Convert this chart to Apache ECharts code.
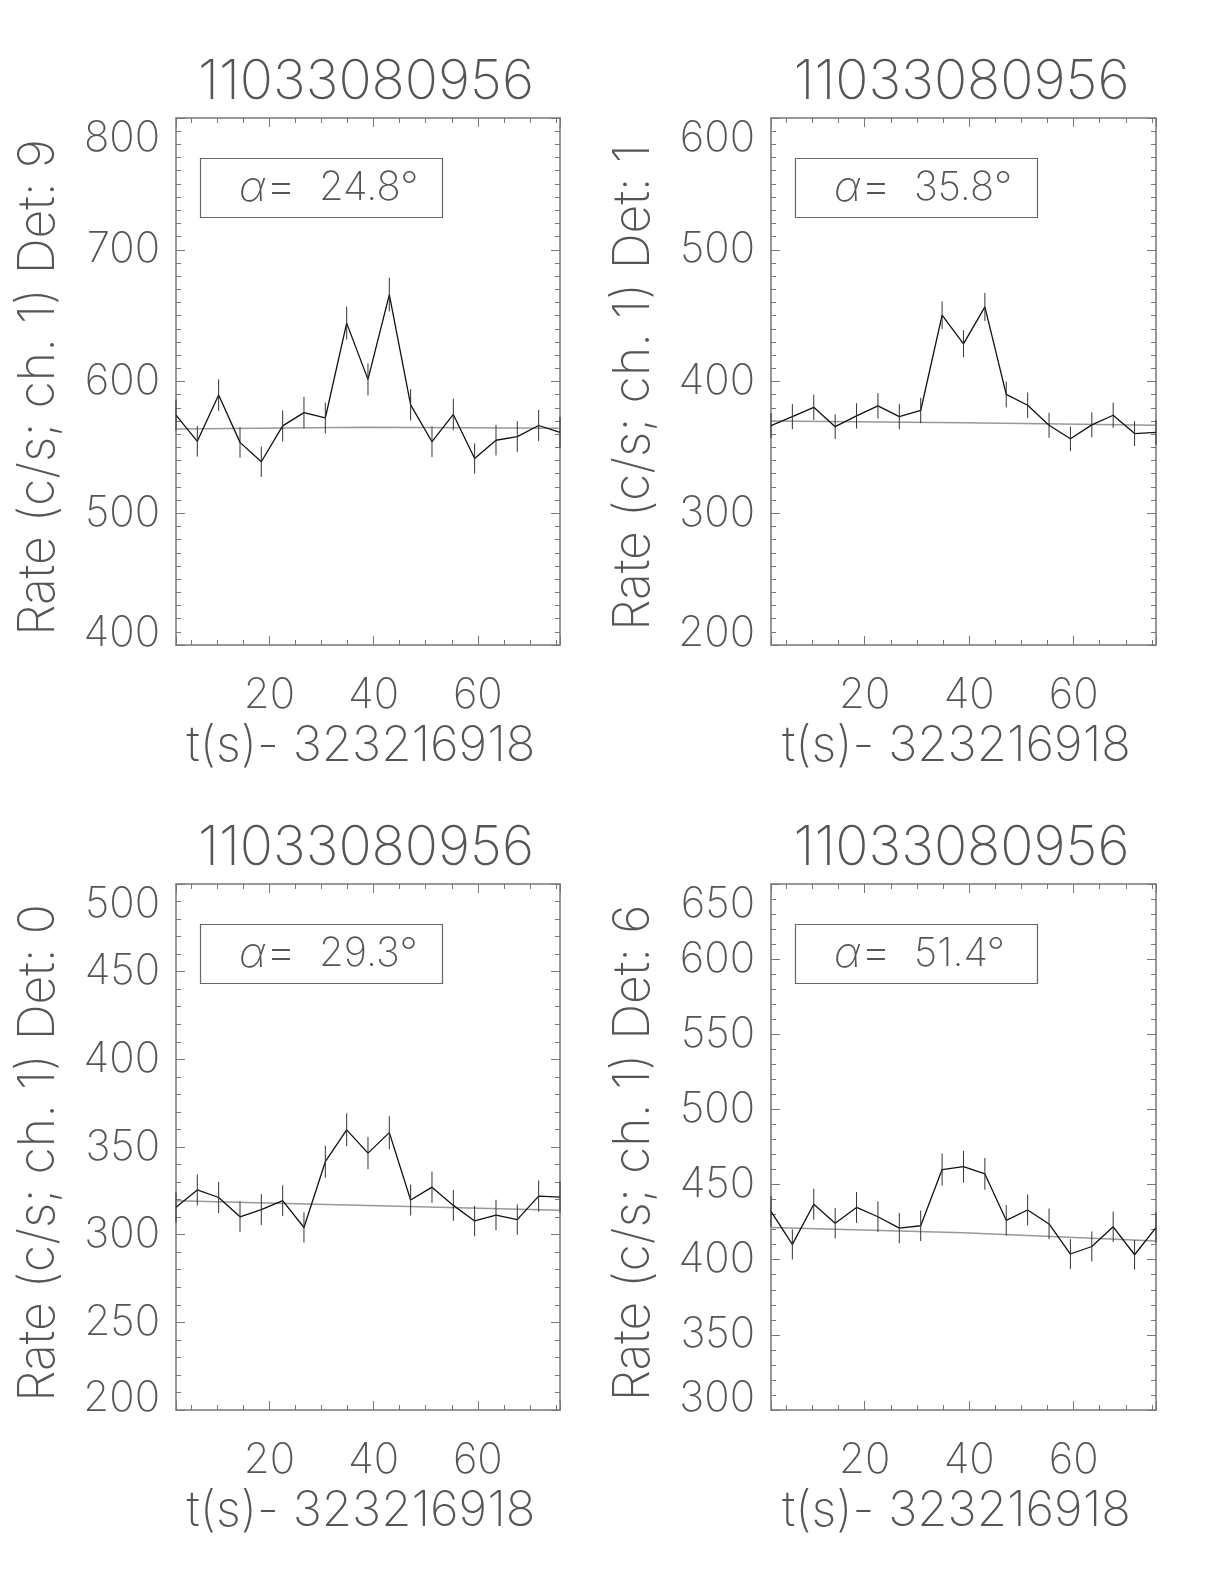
<!DOCTYPE html>
<html>
<head>
<meta charset="utf-8">
<script src="https://cdn.jsdelivr.net/npm/echarts@6/dist/echarts.min.js"></script>
<style>
  html, body { margin: 0; padding: 0; background: #fff; }
  #content { width: 1224px; height: 1584px; }
</style>
</head>
<body>
<div id="content"></div>
<script>
// bin centres, s since 323216918
const times = [2.05, 6.14, 10.24, 14.34, 18.43, 22.53, 26.62, 30.72, 34.82, 38.91,
               43.01, 47.10, 51.20, 55.30, 59.39, 63.49, 67.58, 71.68, 75.78];
const obsId = '11033080956';
const xTitle = 't(s)- 323216918';
const detectors = ['9', '1', '0', '6'];
const angles = ['24.8', '35.8', '29.3', '51.4'];

// Det 9
const rate9 = [574.5, 554.6, 589.7, 553.8, 539.1, 566.3, 576.4, 572.3, 644.3, 601.6,
               666.0, 582.3, 554.3, 575.0, 541.6, 555.4, 558.2, 566.6, 561.4];
const err9 = [11.8, 11.6, 12.0, 11.6, 11.5, 11.8, 11.9, 11.8, 12.5, 12.1,
              12.8, 11.9, 11.6, 11.9, 11.5, 11.6, 11.7, 11.8, 11.7];
const bg9 = [564.0, 565.2, 564.6];
// Det 1
const rate1 = [366.5, 373.3, 380.4, 365.7, 373.9, 381.5, 373.3, 378.0, 450.3, 428.6,
               456.6, 390.2, 382.0, 366.8, 356.5, 367.1, 374.4, 360.5, 361.4];
const err1 = [9.5, 9.5, 9.6, 9.4, 9.6, 9.7, 9.5, 9.6, 10.5, 10.2,
              10.6, 9.8, 9.7, 9.5, 9.3, 9.5, 9.6, 9.4, 9.4];
const bg1 = [370.1, 368.7, 366.8];
// Det 0
const rate0 = [315.7, 325.5, 321.2, 310.2, 314.3, 319.4, 304.1, 341.6, 359.8, 346.5,
               358.2, 319.8, 327.1, 316.7, 307.8, 311.2, 308.6, 322.0, 321.4];
const err0 = [8.8, 8.9, 8.9, 8.7, 8.8, 8.8, 8.6, 9.1, 9.4, 9.2,
              9.4, 8.8, 8.9, 8.8, 8.7, 8.7, 8.7, 8.9, 8.9];
const bg0 = [319.4, 316.7, 313.9];
// Det 6
const rate6 = [432.1, 410.2, 436.9, 424.3, 434.8, 428.6, 421.0, 422.6, 460.0, 461.9,
               457.1, 426.2, 433.1, 423.8, 403.8, 408.8, 421.9, 403.3, 421.4];
const err6 = [10.3, 10.0, 10.3, 10.2, 10.3, 10.2, 10.1, 10.2, 10.6, 10.6,
              10.6, 10.2, 10.3, 10.2, 9.9, 10.0, 10.1, 9.9, 10.1];
const bg6 = [421.4, 417.9, 412.4];
const bgTimes = [times[0], times[9], times[18]];

const yMins = [400, 200, 200, 300];
const yMaxs = [800, 600, 500, 650];
const ySteps = [100, 100, 50, 50];
const yMinorSplits = [10, 10, 5, 5];

const rates = [rate9, rate1, rate0, rate6];
const errs = [err9, err1, err0, err6];
const bgs = [bg9, bg1, bg0, bg6];

// panel boxes
const boxes = [
  {left: 176, top: 118, width: 384, height: 527},
  {left: 771, top: 118, width: 385, height: 527},
  {left: 176, top: 884, width: 384, height: 526},
  {left: 771, top: 884, width: 385, height: 526}
];

const font = "Inter, 'DejaVu Sans', sans-serif";
const fw = 200;
const txt = '#555';
const axisCol = '#777';

let chart = echarts.init(document.getElementById('content'));

let grids = [], xAxes = [], yAxes = [], series = [], titles = [];

function errRender(params, api) {
  let p1 = api.coord([api.value(0), api.value(1)]);
  let p2 = api.coord([api.value(0), api.value(2)]);
  return {
    type: 'line',
    shape: {x1: p1[0], y1: p1[1], x2: p2[0], y2: p2[1]},
    style: {stroke: '#333', lineWidth: 1}
  };
}

for (let i = 0; i < 4; i++) {
  let b = boxes[i];
  grids.push({left: b.left, top: b.top, width: b.width, height: b.height, outerBoundsMode: 'none'});

  let xBase = {
    type: 'value', gridIndex: i, min: times[0], max: times[18], splitNumber: 4,
    axisLine: {show: true, lineStyle: {color: axisCol, width: 1.5}},
    axisTick: {show: true, inside: true, length: 9, lineStyle: {color: axisCol}},
    minorTick: {show: true, splitNumber: 4, length: 5, lineStyle: {color: axisCol}},
    splitLine: {show: false}
  };
  xAxes.push(Object.assign({}, xBase, {
    position: 'bottom',
    axisLabel: {
      show: true, margin: 29, color: txt, fontFamily: font, fontSize: 42, fontWeight: fw,
      showMinLabel: false, showMaxLabel: false,
      formatter: v => (Math.abs(v % 20) < 1e-6 ? String(v) : '')
    },
    name: xTitle, nameLocation: 'middle', nameGap: 77,
    nameTextStyle: {color: txt, fontFamily: font, fontSize: 49, fontWeight: fw, padding: [0, 14, 0, 0]}
  }));
  xAxes.push(Object.assign({}, xBase, {position: 'top', axisLabel: {show: false}}));

  let yBase = {
    type: 'value', gridIndex: i, min: yMins[i], max: yMaxs[i], interval: ySteps[i],
    axisLine: {show: true, lineStyle: {color: axisCol, width: 1.5}},
    axisTick: {show: true, inside: true, length: 9, lineStyle: {color: axisCol}},
    minorTick: {show: true, splitNumber: yMinorSplits[i], length: 5, lineStyle: {color: axisCol}},
    splitLine: {show: false}
  };
  yAxes.push(Object.assign({}, yBase, {
    position: 'left',
    axisLabel: {
      show: true, margin: 16, color: txt, fontFamily: font, fontSize: 42, fontWeight: fw,
      lineHeight: 23, padding: [9, 0, 0, 0],
      verticalAlignMinLabel: 'bottom', verticalAlignMaxLabel: 'top'
    },
    name: 'Rate (c/s; ch. 1) Det: ' + detectors[i], nameLocation: 'middle', nameGap: 112,
    nameRotate: 90,
    nameTextStyle: {color: txt, fontFamily: font, fontSize: 50, fontWeight: fw, padding: [0, 12, 0, 0]}
  }));
  yAxes.push(Object.assign({}, yBase, {position: 'right', axisLabel: {show: false}}));

  series.push({
    type: 'line', name: 'background', xAxisIndex: 2 * i, yAxisIndex: 2 * i,
    data: bgTimes.map((t, k) => [t, bgs[i][k]]),
    showSymbol: false, silent: true,
    lineStyle: {color: '#999', width: 1.5}, z: 2
  });
  series.push({
    type: 'line', name: 'rate', xAxisIndex: 2 * i, yAxisIndex: 2 * i,
    data: times.map((t, k) => [t, rates[i][k]]),
    showSymbol: false, silent: true,
    lineStyle: {color: '#111', width: 1.3}, z: 3
  });
  series.push({
    type: 'custom', name: 'error', xAxisIndex: 2 * i, yAxisIndex: 2 * i,
    data: times.map((t, k) => [t, rates[i][k] - errs[i][k], rates[i][k] + errs[i][k]]),
    renderItem: errRender, silent: true, z: 4
  });

  titles.push({
    text: obsId, left: b.left + b.width / 2 - 2, top: b.top - 62, textAlign: 'center', padding: 0,
    textStyle: {color: txt, fontFamily: font, fontSize: 55, fontWeight: fw, lineHeight: 52}
  });
  titles.push({
    text: '{a|α}{e|=}  ' + angles[i] + '°', left: b.left + 24, top: b.top + 44,
    padding: [6, 24, 6, 39], borderColor: '#666', borderWidth: 1.2,
    textStyle: {
      color: txt, fontFamily: font, fontSize: 40, fontWeight: fw, lineHeight: 40, width: 180,
      rich: {
        a: {fontStyle: 'italic', color: txt, fontFamily: font, fontSize: 42, fontWeight: fw, lineHeight: 40},
        e: {color: txt, fontFamily: font, fontSize: 48, fontWeight: fw, lineHeight: 40}
      }
    }
  });
}

chart.setOption({
  backgroundColor: '#fff',
  animation: false,
  title: titles,
  grid: grids,
  xAxis: xAxes,
  yAxis: yAxes,
  series: series
});
</script>
</body>
</html>
